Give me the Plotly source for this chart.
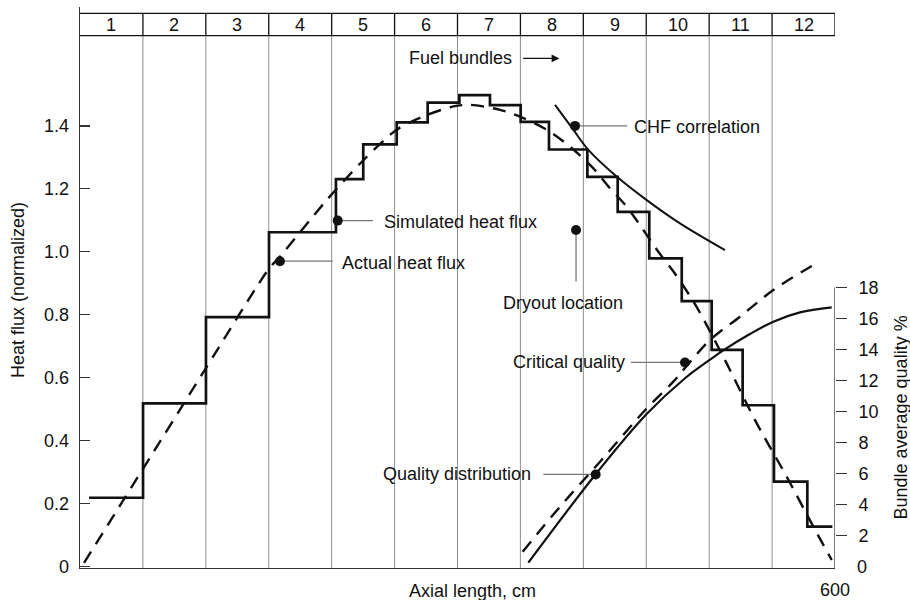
import plotly.graph_objects as go

# ---------------- data ----------------
bundle_numbers = [str(i) for i in range(1, 13)]
bundle_length_cm = 50
axial_length_cm = 600

# simulated heat flux (step): edges in cm and levels (normalized)
step_edges_cm = [7.2, 50.1, 100.1, 150.2, 203.4, 225.1, 251.7, 276.3, 301.5, 325.8,
                 350.2, 372.7, 403.2, 427.3, 452.4, 478.2, 502.0, 526.6, 551.5, 578.0, 597.9]
step_levels = [0.218, 0.518, 0.792, 1.062, 1.231, 1.341, 1.411, 1.474, 1.498, 1.466,
               1.413, 1.325, 1.238, 1.127, 0.979, 0.843, 0.688, 0.512, 0.269, 0.126]

# actual heat flux (dashed)
actual_x_cm = [3.2, 49, 99.6, 150, 159, 196, 225, 251.7, 272.8, 296.7, 309.9, 333.8, 352.3,
               370.9, 389.4, 408, 420, 434.5, 447.7, 459.6, 472.9, 490, 513.9, 537.7,
               561.6, 582.8, 597.4]
actual_flux = [0.011, 0.303, 0.627, 0.945, 0.985, 1.164, 1.29, 1.388, 1.43, 1.462, 1.467,
               1.451, 1.425, 1.388, 1.334, 1.265, 1.207, 1.143, 1.069, 1.0, 0.93, 0.825,
               0.645, 0.455, 0.285, 0.126, 0.02]

# CHF correlation (solid)
chf_x_cm = [377.5, 392, 404, 426.5, 450.4, 476.8, 512.6]
chf_flux = [1.467, 1.388, 1.324, 1.239, 1.164, 1.09, 1.005]

# quality distribution (solid, right axis, %)
qual_x_cm = [356.3, 409.8, 450.3, 480.8, 500.7, 511.2, 532.4, 551, 572.2, 597.4]
qual_pct = [0.26, 5.96, 9.84, 12.15, 13.35, 13.95, 15.0, 15.8, 16.4, 16.72]

# critical quality (dashed, right axis, %)
crit_x_cm = [351.8, 381.5, 413.3, 450.4, 471.5, 484.8, 500.7, 524.5, 551, 582.8]
crit_pct = [0.97, 3.87, 6.77, 10.21, 11.93, 13.2, 14.62, 16.12, 17.84, 19.45]

left_ticks = [0, 0.2, 0.4, 0.6, 0.8, 1.0, 1.2, 1.4]
left_ticktext = ["0", "0.2", "0.4", "0.6", "0.8", "1.0", "1.2", "1.4"]
right_ticks = [2, 4, 6, 8, 10, 12, 14, 16, 18]

# callouts: label, dot (cm, flux), leader end (cm, flux), text anchor
callouts = [
    ("Simulated heat flux", (204.8, 1.099), (232.8, 1.099), (239.8, 1.094, "left")),
    ("Actual heat flux", (158.9, 0.970), (200.8, 0.970), (206.6, 0.965, "left")),
    ("CHF correlation", (393.4, 1.400), (434.9, 1.400), (438.4, 1.397, "left")),
    ("Critical quality", (480.8, 0.648), (437.8, 0.648), (434.6, 0.648, "right")),
    ("Quality distribution", (409.8, 0.292), (368.2, 0.292), (360.2, 0.295, "right")),
]
dryout = ("Dryout location", (394.2, 1.069), (394.2, 0.905), (383.8, 0.838))

FONT = "Liberation Sans, Arial, Helvetica, sans-serif"
FS = 18
INK = "#111111"
GRID = "#8f8f8f"

W, H = 910, 600
# plot area in page pixels: x 80..835, y 7..568
PX0, PX1, PY0, PY1 = 80, 835, 568, 7


def paper_x(px):
    return (px - PX0) / (PX1 - PX0)


def paper_y(py):
    return (PY0 - py) / (PY0 - PY1)


fig = go.Figure()

fig.add_trace(go.Scatter(x=step_edges_cm, y=step_levels + [step_levels[-1]], mode="lines",
                         line=dict(shape="hv", color=INK, width=2.7), hoverinfo="skip"))
fig.add_trace(go.Scatter(x=actual_x_cm, y=actual_flux, mode="lines",
                         line=dict(shape="spline", smoothing=0.8, color=INK, width=2.4, dash="13px,9px"),
                         hoverinfo="skip"))
fig.add_trace(go.Scatter(x=chf_x_cm, y=chf_flux, mode="lines",
                         line=dict(shape="spline", color=INK, width=2), hoverinfo="skip"))
fig.add_trace(go.Scatter(x=qual_x_cm, y=qual_pct, mode="lines", yaxis="y2",
                         line=dict(shape="spline", color=INK, width=2.2), hoverinfo="skip"))
fig.add_trace(go.Scatter(x=crit_x_cm, y=crit_pct, mode="lines", yaxis="y2",
                         line=dict(shape="spline", color=INK, width=2.4, dash="13px,9px"),
                         hoverinfo="skip"))

shapes = []
annotations = []

strip_bot, strip_top = paper_y(35.7), paper_y(13.3)
for i in range(1, 12):
    xb = i * bundle_length_cm
    shapes.append(dict(type="line", xref="x", yref="paper", x0=xb, x1=xb, y0=0, y1=strip_bot,
                       line=dict(color=GRID, width=1), layer="below"))
for i in range(1, 13):
    xb = i * bundle_length_cm
    shapes.append(dict(type="line", xref="x", yref="paper", x0=xb, x1=xb, y0=strip_bot, y1=strip_top,
                       line=dict(color=INK, width=1.3)))
for yy in (strip_bot, strip_top):
    shapes.append(dict(type="line", xref="x", yref="paper", x0=0, x1=axial_length_cm, y0=yy, y1=yy,
                       line=dict(color=INK, width=1.3)))
for i, lab in enumerate(bundle_numbers):
    annotations.append(dict(x=(i + 0.5) * bundle_length_cm, y=paper_y(25.5),
                            xref="x", yref="paper", text=lab, showarrow=False,
                            font=dict(family=FONT, size=FS, color=INK), xanchor="center", yanchor="middle"))

shapes.append(dict(type="line", xref="x", yref="y2", x0=axial_length_cm, x1=axial_length_cm,
                   y0=-0.09, y1=18, line=dict(color="#333333", width=1.3)))

dot_x, dot_y = [], []
for label, dot, lend, (tx, ty, anc) in callouts:
    dot_x.append(dot[0]); dot_y.append(dot[1])
    shapes.append(dict(type="line", xref="x", yref="y", x0=dot[0], x1=lend[0], y0=dot[1], y1=lend[1],
                       line=dict(color="#777777", width=1.3), layer="below"))
    annotations.append(dict(x=tx, y=ty, xref="x", yref="y", text=label, showarrow=False,
                            xanchor=anc, yanchor="middle", font=dict(family=FONT, size=FS, color=INK)))
lab, dot, lend, (tx, ty) = dryout
dot_x.append(dot[0]); dot_y.append(dot[1])
shapes.append(dict(type="line", xref="x", yref="y", x0=dot[0], x1=lend[0], y0=dot[1], y1=lend[1],
                   line=dict(color="#777777", width=1.3), layer="below"))
annotations.append(dict(x=tx, y=ty, xref="x", yref="y", text=lab, showarrow=False,
                        xanchor="center", yanchor="middle", font=dict(family=FONT, size=FS, color=INK)))

fig.add_trace(go.Scatter(x=dot_x, y=dot_y, mode="markers",
                         marker=dict(color=INK, size=10, line=dict(width=0)), hoverinfo="skip"))

annotations.append(dict(x=259.6, y=1.615, xref="x", yref="y", text="Fuel bundles", showarrow=False,
                        xanchor="left", yanchor="middle", font=dict(family=FONT, size=FS, color=INK)))
annotations.append(dict(x=381, y=1.6145, ax=351, ay=1.6145, xref="x", yref="y", axref="x", ayref="y",
                        text="", showarrow=True, arrowhead=2, arrowsize=1.3, arrowwidth=1.2,
                        arrowcolor=INK))

annotations.append(dict(x=paper_x(472), y=paper_y(591), xref="paper", yref="paper",
                        text="Axial length, cm", showarrow=False, yanchor="middle", xanchor="center",
                        font=dict(family=FONT, size=FS, color=INK)))
annotations.append(dict(x=axial_length_cm, y=paper_y(590), xref="x", yref="paper", text=str(axial_length_cm),
                        showarrow=False, yanchor="middle", xanchor="center",
                        font=dict(family=FONT, size=FS, color=INK)))
annotations.append(dict(x=paper_x(18), y=paper_y(290), xref="paper", yref="paper",
                        text="Heat flux (normalized)", textangle=-90, showarrow=False,
                        xanchor="center", yanchor="middle", font=dict(family=FONT, size=FS, color=INK)))
annotations.append(dict(x=paper_x(900), y=paper_y(417.5), xref="paper", yref="paper",
                        text="Bundle average quality %", textangle=-90, showarrow=False,
                        xanchor="center", yanchor="middle", font=dict(family=FONT, size=FS, color=INK)))
annotations.append(dict(x=paper_x(855), y=0, xref="paper", yref="y2", text="0",
                        showarrow=False, xanchor="left", yanchor="middle",
                        font=dict(family=FONT, size=FS, color=INK)))

fig.update_layout(
    width=W, height=H,
    margin=dict(l=PX0, r=W - PX1, t=PY1, b=H - PY0, autoexpand=False),
    plot_bgcolor="white", paper_bgcolor="white",
    showlegend=False, hovermode=False,
    shapes=shapes, annotations=annotations,
    xaxis=dict(range=[0, axial_length_cm], showline=True, linecolor="#333333", linewidth=1.3,
               showgrid=False, zeroline=False, showticklabels=False, ticks="", automargin=False),
    yaxis=dict(range=[-0.0054, 1.778], tickvals=left_ticks, ticktext=left_ticktext,
               ticks="inside", ticklen=10, tickcolor="#333333", tickwidth=1.2,
               showline=True, linecolor="#333333", linewidth=1.3, showgrid=False, zeroline=False,
               tickfont=dict(family=FONT, size=FS, color=INK), ticklabelstandoff=6, automargin=False),
    yaxis2=dict(range=[-0.084, 36.09], overlaying="y", side="right", tickvals=right_ticks,
                ticks="outside", ticklen=11, tickcolor="#333333", tickwidth=1.2,
                showline=False, showgrid=False, zeroline=False, automargin=False,
                tickfont=dict(family=FONT, size=FS, color=INK), ticklabelstandoff=8),
)

fig.write_html("out.html", config={"displayModeBar": False, "staticPlot": True},
               post_script="document.body.style.margin='0';document.body.style.overflow='hidden';")
